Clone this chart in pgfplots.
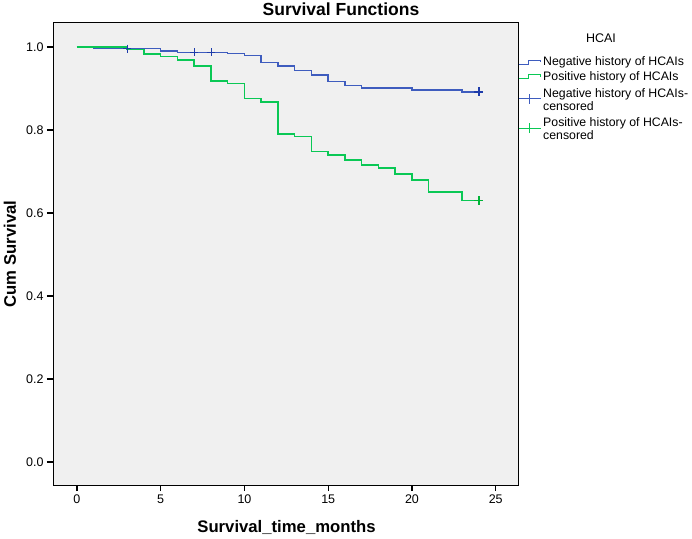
\documentclass[border=0pt]{standalone}
\usepackage{fontspec}
\setmainfont{Liberation Sans}
\usepackage{pgfplots}
\pgfplotsset{compat=1.18}
\definecolor{negblue}{RGB}{62,92,190}
\definecolor{posgreen}{RGB}{10,200,85}
\definecolor{negcens}{RGB}{30,60,170}
\definecolor{poscens}{RGB}{0,180,55}
\definecolor{plotbg}{RGB}{240,240,240}
\begin{document}
\begin{tikzpicture}[x=1pt,y=1pt]
\useasboundingbox (0,0) rectangle (692,538);
\begin{axis}[
  at={(53pt,53pt)}, anchor=south west,
  scale only axis, width=465pt, height=462pt,
  xmin=-1.43, xmax=26.33, ymin=-0.0554, ymax=1.058,
  axis background/.style={fill=plotbg},
  axis line style={black, line width=1pt},
  xtick={0,5,10,15,20,25}, ytick={0,0.2,0.4,0.6,0.8,1.0},
  tick align=outside, tick pos=left, major tick length=6pt,
  tick style={black, line width=1.2pt},
  yticklabel style={/pgf/number format/fixed, /pgf/number format/fixed zerofill, /pgf/number format/precision=1},
  /pgf/number format/assume math mode=true,
  ticklabel style={font=\fontsize{12.5}{15}\selectfont},
  legend style={at={(1,0.928)}, anchor=north west, draw=none, fill=none,
    font=\fontsize{12.3}{11}\selectfont, cells={anchor=west, align=left},
    inner sep=0pt, row sep=3pt, nodes={inner sep=0.5pt},
    /tikz/every odd column/.append style={column sep=1.5pt}},
]
\addplot[const plot, negblue, line width=1.5pt,
  legend image code/.code={\draw[negblue, line width=1pt] (0pt,-2pt) -- (10pt,-2pt) -- (10pt,2pt) -- (22pt,2pt) -- (22pt,0pt);}]
  coordinates {(0,1.0) (1,0.996) (5,0.991) (6,0.987) (9,0.984) (10,0.980) (11,0.963) (12,0.954) (13,0.943) (14,0.933) (15,0.917) (16,0.907) (17,0.901) (20,0.896) (23,0.892) (24,0.892)};
\addlegendentry{Negative history of HCAIs}
\addplot[const plot, posgreen, line width=1.5pt,
  legend image code/.code={\draw[posgreen, line width=1pt] (0pt,-2pt) -- (10pt,-2pt) -- (10pt,2pt) -- (22pt,2pt) -- (22pt,0pt);}]
  coordinates {(0,1.0) (3,0.994) (4,0.983) (5,0.977) (6,0.969) (7,0.954) (8,0.918) (9,0.912) (10,0.876) (11,0.868) (12,0.790) (13,0.784) (14,0.748) (15,0.740) (16,0.728) (17,0.716) (18,0.708) (19,0.694) (20,0.680) (21,0.651) (23,0.630) (24,0.630)};
\addlegendentry{Positive history of HCAIs}
\addplot[only marks, mark=+, mark size=4.5pt, negcens, mark options={line width=1.8pt},
  legend image code/.code={\draw[negblue, line width=0.8pt] (0pt,0pt) -- (22pt,0pt); \draw[negblue, line width=0.8pt] (11pt,-5pt) -- (11pt,5pt);}]
  coordinates {(24,0.892)};
\addlegendentry{\rule{0pt}{12pt}Negative history of HCAIs-\\censored}
\addplot[only marks, mark=+, mark size=4.5pt, poscens, mark options={line width=1.8pt},
  legend image code/.code={\draw[posgreen, line width=0.8pt] (0pt,0pt) -- (22pt,0pt); \draw[posgreen, line width=0.8pt] (11pt,-5pt) -- (11pt,5pt);}]
  coordinates {(24,0.630)};
\addlegendentry{\rule{0pt}{11pt}Positive history of HCAIs-\\censored}
\addplot[forget plot, only marks, mark=+, mark size=4pt, negcens, mark options={line width=0.9pt}]
  coordinates {(3,0.996) (7,0.987) (8,0.987)};
\end{axis}
\node[font=\bfseries\fontsize{17.5}{20}\selectfont, anchor=base] at (341,522.5) {Survival Functions};
\node[font=\fontsize{12.5}{15}\selectfont] at (601,500) {HCAI};
\node[font=\bfseries\fontsize{16.7}{19}\selectfont, anchor=base] at (286.5,5.7) {Survival\_time\_months};
\node[font=\bfseries\fontsize{16.7}{19}\selectfont, rotate=90] at (10,284) {Cum Survival};
\end{tikzpicture}
\end{document}
